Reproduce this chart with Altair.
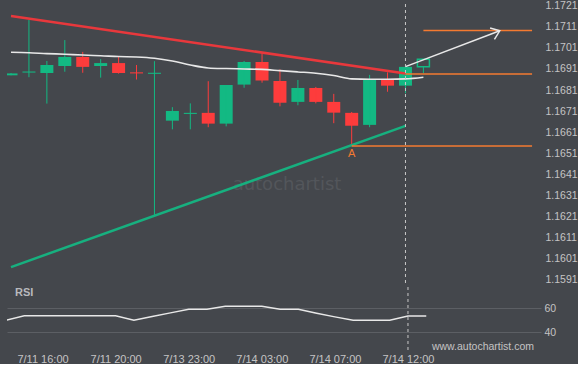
import altair as alt
import pandas as pd

# ---------------- data ----------------
idx = list(range(23))
opens  = [1.16880, 1.16893, 1.16891, 1.16924, 1.16967, 1.16924, 1.16938, 1.16894, 1.16887,
          1.16665, 1.16697, 1.16702, 1.16651, 1.16836, 1.16943, 1.16853, 1.16754, 1.16820,
          1.16754, 1.16702, 1.16645, 1.16859, 1.16831]
closes = [1.16889, 1.16898, 1.16929, 1.16967, 1.16920, 1.16938, 1.16891, 1.16889, 1.16892,
          1.16711, 1.16702, 1.16651, 1.16834, 1.16943, 1.16855, 1.16750, 1.16820, 1.16754,
          1.16703, 1.16641, 1.16859, 1.16831, 1.16920]
highs  = [1.16891, 1.17142, 1.16948, 1.17047, 1.16991, 1.16957, 1.16967, 1.16929, 1.16947,
          1.16729, 1.16747, 1.16852, 1.16834, 1.16948, 1.16984, 1.16908, 1.16858, 1.16825,
          1.16792, 1.16706, 1.16882, 1.16894, 1.16920]
lows   = [1.16880, 1.16871, 1.16746, 1.16897, 1.16892, 1.16869, 1.16888, 1.16860, 1.16218,
          1.16624, 1.16624, 1.16634, 1.16638, 1.16821, 1.16845, 1.16733, 1.16738, 1.16747,
          1.16653, 1.16545, 1.16634, 1.16802, 1.16795]

# projected (hollow) candle
proj_idx = [23]
proj_open = [1.16921]
proj_close = [1.16956]
proj_low = [1.16890]

ma_idx = list(range(24))
ma = [1.16989, 1.16987, 1.16983, 1.16980, 1.16976, 1.16973, 1.16969, 1.16967, 1.16961,
      1.16948, 1.16929, 1.16915, 1.16912, 1.16910, 1.16908, 1.16902, 1.16896, 1.16890,
      1.16879, 1.16863, 1.16861, 1.16861, 1.16863, 1.16871]

rsi_idx = list(range(24))
rsi = [50.0, 53.8, 53.8, 53.8, 53.8, 53.8, 53.8, 50.0, 53.2, 56.2, 59.2, 59.2, 61.7,
       61.7, 61.7, 59.2, 59.2, 55.9, 52.9, 50.0, 50.0, 50.0, 53.6, 53.6]

res_idx = [0, 22]
res_price = [1.17161, 1.16889]
sup_idx = [0, 22]
sup_price = [1.15971, 1.16640]

lvl_start = [22, 19, 23]
lvl_end = [29.06, 29.06, 29.06]
lvl_price = [1.16886, 1.16545, 1.17093]

arrow_idx = [22, 27.26]
arrow_price = [1.16921, 1.17091]

a_idx = [19]
a_price = [1.16545]
a_text = ["A"]

tick_idx = [2, 6, 10, 14, 18, 22]
tick_labels = ["7/11 16:00", "7/11 20:00", "7/13 23:00", "7/14 03:00", "7/14 07:00", "7/14  12:00"]
price_ticks = [1.1591, 1.1601, 1.1611, 1.1621, 1.1631, 1.1641, 1.1651, 1.1661, 1.1671,
               1.1681, 1.1691, 1.1701, 1.1711, 1.1721]
rsi_ticks = [40, 60]
now_idx = 22

# ---------------- style ----------------
BG = "#44474c"
GREEN = "#13b983"
RED = "#fd3c3c"
RED_LINE = "#e8383c"
GREEN_LINE = "#17b07f"
ORANGE = "#f47a30"
WHITE = "#e8e8e8"
LABEL = "#c4c4c4"
FONT = "Liberation Sans"

W = 534
H1 = 285
H2 = 63

candles = pd.DataFrame({"i": idx, "open": opens, "close": closes, "high": highs, "low": lows})
candles["dir"] = ["up" if c >= o else "down" for o, c in zip(opens, closes)]
proj = pd.DataFrame({"i": proj_idx, "open": proj_open, "close": proj_close, "low": proj_low})
ma_df = pd.DataFrame({"i": ma_idx, "p": ma})
rsi_df = pd.DataFrame({"i": rsi_idx, "r": rsi})
res_df = pd.DataFrame({"i": res_idx, "p": res_price})
sup_df = pd.DataFrame({"i": sup_idx, "p": sup_price})
lvl_df = pd.DataFrame({"i": lvl_start, "i2": lvl_end, "p": lvl_price})
arr_df = pd.DataFrame({"i": arrow_idx, "p": arrow_price})
arr_tip = arr_df.iloc[[1]]
now_df = pd.DataFrame({"i": [now_idx]})
a_df = pd.DataFrame({"i": a_idx, "p": a_price, "t": a_text})

xscale = alt.Scale(domain=[0.055, 29.28], nice=False, zero=False)
yscale = alt.Scale(domain=[1.15886, 1.17237], nice=False, zero=False)
yaxis = alt.Axis(orient="right", values=price_ticks, format=".4f", grid=False, domain=False,
                 ticks=False, labelPadding=4, labelFontSize=10.5, labelColor=LABEL,
                 labelFont=FONT, title=None)

def X():
    return alt.X("i:Q", scale=xscale, axis=None)

def Y(field):
    return alt.Y(f"{field}:Q", scale=yscale, axis=yaxis)

color = alt.Color("dir:N", scale=alt.Scale(domain=["up", "down"], range=[GREEN, RED]), legend=None)

base = alt.Chart(candles)
wicks = base.mark_rule(strokeWidth=1, clip=True).encode(x=X(), y=Y("low"), y2="high", color=color)
bodies = base.mark_bar(size=13, clip=True).encode(x=X(), y=Y("open"), y2="close", color=color)

proj_wick = alt.Chart(proj).mark_rule(strokeWidth=1, color=GREEN).encode(x=X(), y=Y("low"), y2="open")
proj_body = alt.Chart(proj).mark_bar(size=12, fillOpacity=0, stroke=GREEN, strokeWidth=1.5).encode(
    x=X(), y=Y("open"), y2="close")

ma_line = alt.Chart(ma_df).mark_line(color=WHITE, strokeWidth=1.6, clip=True, interpolate="monotone").encode(
    x=X(), y=Y("p"))
res_line = alt.Chart(res_df).mark_line(color=RED_LINE, strokeWidth=2.5, clip=True).encode(x=X(), y=Y("p"))
sup_line = alt.Chart(sup_df).mark_line(color=GREEN_LINE, strokeWidth=2.5, clip=True).encode(x=X(), y=Y("p"))
levels = alt.Chart(lvl_df).mark_rule(color=ORANGE, strokeWidth=1.5).encode(x=X(), x2="i2", y=Y("p"))
arrow = alt.Chart(arr_df).mark_line(color=WHITE, strokeWidth=1.5).encode(x=X(), y=Y("p"))
tip = alt.Chart(arr_tip).mark_point(shape="M-1,-0.75L0,0L-1,0.75", filled=False, size=260,
                                    angle=339, color=WHITE, strokeWidth=1.5, opacity=1).encode(
    x=X(), y=Y("p"))
now_main = alt.Chart(now_df).mark_rule(color="#c8c8c8", strokeDash=[3, 3], strokeWidth=1).encode(
    x=X(), y=alt.value(4), y2=alt.value(H1))
a_lbl = alt.Chart(a_df).mark_text(color=ORANGE, fontSize=11, font=FONT, dy=8, baseline="middle").encode(
    x=X(), y=Y("p"), text="t:N")
wm = alt.Chart(now_df).mark_text(text="autochartist", color="#53565b", fontSize=18, font="DejaVu Sans",
                                  align="center", baseline="middle").encode(
    x=alt.value(280), y=alt.value(185))

main = alt.layer(bodies, wicks, proj_wick, proj_body, wm, ma_line, res_line, sup_line, levels,
                 arrow, tip, now_main, a_lbl).properties(width=W, height=H1)

# ---------------- RSI ----------------
label_expr = " : ".join([f"datum.value == {v} ? '{t}'" for v, t in zip(tick_idx, tick_labels)]) + " : ''"
rx = alt.X("i:Q", scale=xscale,
           axis=alt.Axis(values=tick_idx, labelExpr=label_expr, grid=False, domain=False, ticks=False,
                         labelPadding=3, labelFontSize=11, labelColor=LABEL, labelFont=FONT, title=None,
                         labelFlush=False, labelOverlap=False))
ry = alt.Y("r:Q", scale=alt.Scale(domain=[25.25, 77.75], nice=False, zero=False),
           axis=alt.Axis(orient="right", values=rsi_ticks, grid=True, gridColor="#5c5f64", gridWidth=1,
                         domain=False, ticks=False, labelPadding=3, labelFontSize=10.5,
                         labelColor=LABEL, labelFont=FONT, title=None))
rsi_line = alt.Chart(rsi_df).mark_line(color=WHITE, strokeWidth=1.4, clip=True).encode(x=rx, y=ry)
now_rsi = alt.Chart(now_df).mark_rule(color="#c8c8c8", strokeDash=[3, 3], strokeWidth=1).encode(
    x=alt.X("i:Q", scale=xscale), y=alt.value(0), y2=alt.value(H2 + 2))
rsi_title = alt.Chart(now_df).mark_text(text="RSI", color="#b8b9bd", fontSize=11, fontWeight="bold",
                                        font=FONT, align="left", baseline="middle").encode(
    x=alt.value(8), y=alt.value(6))
site = alt.Chart(now_df).mark_text(text="www.autochartist.com", color="#c4c4c4", fontSize=10.5, font=FONT,
                                   align="right", baseline="middle").encode(
    x=alt.value(527), y=alt.value(60))

rsi_panel = alt.layer(rsi_line, now_rsi, rsi_title, site).properties(width=W, height=H2)

chart = alt.vconcat(main, rsi_panel, spacing=0).properties(
    padding={"left": 7, "top": 0, "right": 0, "bottom": 0},
    background=BG,
).configure_view(stroke=None)

chart.save("out.html", embed_options={"renderer": "svg", "actions": False})
